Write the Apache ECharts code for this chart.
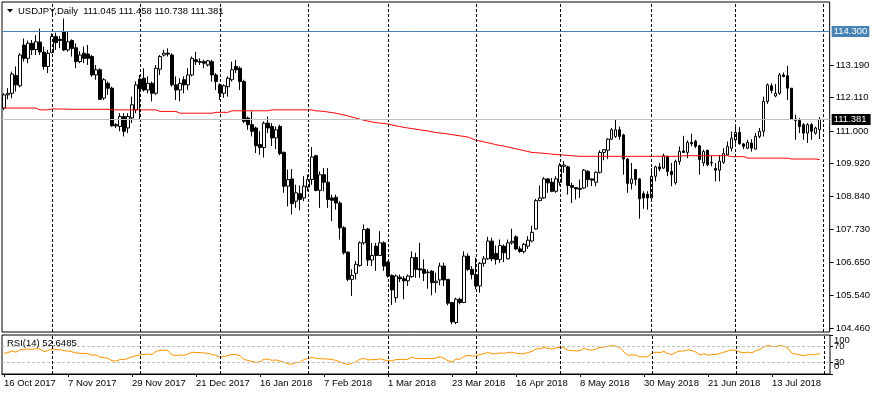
<!DOCTYPE html>
<html>
<head>
<meta charset="utf-8">
<script src="https://cdn.jsdelivr.net/npm/echarts@6/dist/echarts.min.js"></script>
<style>html,body{margin:0;padding:0;background:#fff}#c{width:873px;height:395px}</style>
</head>
<body>
<div id="c"></div>
<script>
const symbolName = 'USDJPY,Daily';
const holidays = ['2017-12-25', '2018-01-01'];
const priceTicks = [113.19, 112.11, 111.0, 109.92, 108.84, 107.73, 106.65, 105.54, 104.46];
const rsiInnerTicks = [30, 70];
const rsiEdgeTicks = [0, 100];
const rsiLevels = [70, 30];
const resistance = 114.3;
const tickEvery = 16;

const opens = [111.76,112.20,112.25,112.84,112.50,113.85,113.41,113.91,113.70,113.95,
113.62,113.14,113.60,114.13,114.04,114.29,113.69,114.00,113.76,113.30,
113.58,113.55,113.47,112.86,113.03,112.09,112.58,112.42,111.21,111.15,
111.48,111.10,111.43,111.70,112.72,112.75,112.36,112.58,112.25,113.05,
113.52,113.58,113.52,112.53,112.36,112.70,112.53,112.86,113.36,113.30,
113.30,113.19,113.30,112.86,112.53,112.25,112.47,112.70,113.14,113.08,
112.64,111.43,111.21,111.10,110.55,110.45,111.26,111.15,110.77,111.15,
110.29,109.17,109.41,108.67,108.92,108.78,109.14,109.39,110.18,109.03,
109.55,109.30,108.78,108.80,108.61,107.79,106.98,106.08,106.28,106.54,
107.29,107.75,106.72,107.18,106.87,107.29,106.65,106.21,105.47,106.15,
106.10,106.03,106.17,106.80,106.43,106.41,106.30,106.35,105.97,106.06,
106.52,106.08,105.31,104.65,105.42,105.31,106.85,106.41,106.24,105.86,
106.61,106.76,107.35,106.94,106.74,107.18,106.76,107.29,107.49,107.09,
107.00,107.18,107.35,107.75,108.69,108.78,109.41,109.30,109.00,109.30,
109.83,109.81,109.19,109.12,109.06,109.11,109.66,109.41,109.30,109.63,
110.29,110.36,110.73,110.82,111.04,110.87,110.07,109.26,109.72,109.41,
108.92,108.90,108.78,109.50,109.81,109.77,110.16,109.66,109.28,109.99,
110.34,110.29,110.62,110.66,110.51,109.94,110.36,109.94,109.76,109.70,
109.96,110.21,110.43,110.70,110.95,110.57,110.43,110.60,110.40,110.82,
110.99,111.98,112.50,112.16,112.25,112.86,112.83,112.42,111.39,111.35,
111.21,110.93,111.21,110.93,111.045];
const highs = [112.25,112.42,112.97,113.14,113.58,114.07,114.00,114.02,114.18,114.40,
113.80,113.69,114.24,114.26,114.15,114.73,114.29,114.04,113.91,113.64,
113.80,113.85,113.52,113.19,113.08,112.75,112.64,112.47,111.26,111.59,
111.59,111.59,112.14,112.64,112.86,113.08,112.81,112.64,113.19,113.52,
113.69,113.74,113.58,112.81,112.75,112.81,113.08,113.47,113.63,113.41,
113.36,113.36,113.36,112.92,112.58,112.55,112.81,113.30,113.36,113.14,
112.70,111.48,111.65,111.15,110.99,111.32,111.48,111.26,111.15,111.21,
110.32,109.72,109.74,109.22,109.19,109.50,109.55,110.47,110.21,109.66,
109.77,109.77,108.89,108.89,108.67,107.84,107.01,106.41,106.69,107.34,
107.90,107.79,107.29,107.29,107.68,107.34,106.69,106.24,106.24,106.24,
106.19,106.24,107.01,106.96,107.29,106.74,106.41,106.39,106.30,106.63,
106.63,106.08,105.33,105.47,105.47,107.01,106.94,106.52,106.80,106.65,
106.85,107.49,107.46,107.20,107.40,107.24,107.40,107.76,107.54,107.18,
107.29,107.51,107.86,108.75,109.19,109.47,109.44,109.44,109.50,109.94,
110.00,109.85,109.28,109.13,109.39,109.74,109.70,109.44,109.66,110.36,
110.40,110.76,111.10,111.37,111.15,110.91,110.10,109.94,109.74,109.44,
109.00,109.00,109.77,109.85,109.94,110.25,110.18,109.94,110.05,110.49,
110.84,110.69,110.91,110.71,110.54,110.38,110.38,110.18,109.94,110.21,
110.43,110.65,110.98,111.13,111.13,110.60,110.71,110.73,110.93,111.10,
112.14,112.58,112.58,112.56,112.92,112.94,113.16,112.42,111.54,111.43,
111.26,111.26,111.26,111.15,111.458];
const lows = [111.70,112.05,112.09,112.31,112.45,113.30,113.25,113.52,113.52,113.52,
113.03,112.92,113.58,113.69,113.75,113.65,113.63,113.47,113.08,113.25,
113.25,113.19,112.80,112.70,112.03,112.03,112.20,111.15,111.10,110.99,
110.82,110.93,111.26,111.59,111.37,112.31,112.25,111.98,112.20,112.86,
113.47,113.47,112.47,112.03,111.98,112.25,112.36,112.81,113.19,113.19,
113.08,113.14,112.64,112.36,112.03,112.10,112.14,112.64,112.92,112.36,
111.26,111.04,110.82,110.27,110.21,110.12,110.93,110.50,110.40,110.20,
108.95,108.50,108.23,108.45,108.37,108.67,109.00,109.22,109.00,108.45,
109.00,108.45,108.01,108.39,107.40,106.90,106.02,105.53,106.08,106.50,
107.23,106.52,106.52,106.36,106.85,106.36,106.13,105.23,105.31,105.99,
105.42,105.86,106.13,106.13,106.13,106.02,105.77,105.55,105.64,105.88,
105.86,105.22,104.59,104.59,105.25,105.29,106.36,106.08,105.75,105.64,
106.50,106.72,106.68,106.57,106.63,106.65,106.74,107.23,107.05,106.96,
106.94,107.09,107.31,107.73,108.67,108.75,108.95,108.97,108.95,109.19,
109.61,108.89,108.61,108.73,108.78,109.08,109.15,109.17,109.17,109.59,
110.03,110.07,110.70,110.77,110.71,109.55,108.95,109.06,109.19,108.09,
108.42,108.39,108.75,109.33,109.66,109.74,109.50,109.17,109.22,109.88,
110.27,110.10,110.49,110.43,109.55,109.83,109.83,109.83,109.33,109.33,
109.91,110.21,110.32,110.58,110.54,110.40,110.40,110.32,110.38,110.76,
110.82,111.90,112.25,112.12,112.20,112.78,112.03,111.37,110.71,110.93,
110.71,110.60,110.71,110.88,110.738];
const closes = [112.20,112.25,112.89,112.53,113.52,113.41,113.91,113.69,113.96,113.62,
113.14,113.58,114.13,113.93,114.00,113.69,113.96,113.74,113.30,113.52,
113.41,113.41,112.86,113.03,112.05,112.70,112.42,111.17,111.17,111.48,
110.99,111.48,111.87,112.53,112.40,112.36,112.58,112.25,113.08,113.47,
113.58,113.55,112.53,112.36,112.58,112.53,112.86,113.41,113.30,113.28,
113.25,113.33,112.86,112.64,112.25,112.50,112.75,113.03,113.03,112.64,
111.32,111.21,110.99,110.51,110.45,111.26,111.10,110.77,111.04,110.25,
109.17,109.39,108.59,108.95,108.73,109.17,109.39,110.14,109.03,109.55,
109.30,108.73,108.70,108.61,107.79,106.96,106.08,106.21,106.58,107.29,
107.73,106.72,106.87,106.87,107.29,106.52,106.19,105.73,106.19,106.10,
106.03,106.19,106.80,106.41,106.39,106.28,106.32,105.97,106.02,106.52,
106.06,105.29,104.67,105.42,105.31,106.85,106.41,106.24,105.86,106.61,
106.76,107.35,106.76,106.74,107.20,106.96,107.29,107.34,107.09,107.00,
107.24,107.38,107.64,108.69,108.78,109.41,109.28,109.00,109.41,109.85,
109.87,109.19,109.13,109.08,109.10,109.70,109.39,109.37,109.63,110.29,
110.38,110.73,111.04,111.04,110.82,110.07,109.26,109.41,109.39,108.75,
108.78,108.78,109.50,109.81,109.74,110.18,109.66,109.55,109.99,110.32,
110.29,110.62,110.58,110.49,110.05,110.32,109.88,109.96,109.70,110.00,
110.25,110.49,110.76,110.95,110.58,110.49,110.62,110.43,110.82,110.99,
111.98,112.53,112.34,112.25,112.86,112.81,112.42,111.39,111.35,111.15,
110.93,111.21,110.99,111.10,111.381];
const ma = [111.76,111.76,111.76,111.76,111.76,111.76,111.76,111.76,111.76,111.70,
111.70,111.70,111.73,111.73,111.73,111.73,111.72,111.72,111.72,111.72,
111.72,111.72,111.72,111.72,111.72,111.72,111.72,111.70,111.70,111.70,
111.70,111.70,111.70,111.70,111.70,111.70,111.70,111.70,111.70,111.65,
111.65,111.65,111.65,111.65,111.59,111.59,111.59,111.59,111.59,111.59,
111.59,111.59,111.59,111.62,111.62,111.62,111.62,111.67,111.67,111.67,
111.67,111.67,111.67,111.67,111.67,111.67,111.67,111.70,111.70,111.70,
111.70,111.70,111.70,111.70,111.70,111.70,111.70,111.70,111.67,111.66,
111.65,111.63,111.61,111.59,111.56,111.53,111.50,111.46,111.43,111.39,
111.36,111.33,111.30,111.28,111.26,111.25,111.23,111.20,111.17,111.15,
111.12,111.10,111.08,111.06,111.04,111.02,111.00,110.97,110.95,110.93,
110.92,110.90,110.88,110.86,110.84,110.82,110.80,110.75,110.69,110.67,
110.64,110.61,110.58,110.55,110.52,110.50,110.47,110.44,110.41,110.38,
110.35,110.32,110.29,110.28,110.27,110.26,110.25,110.23,110.22,110.21,
110.20,110.19,110.18,110.17,110.16,110.16,110.16,110.16,110.16,110.16,
110.16,110.16,110.16,110.16,110.16,110.16,110.16,110.16,110.16,110.16,
110.16,110.16,110.16,110.16,110.16,110.16,110.16,110.16,110.16,110.16,
110.18,110.18,110.18,110.18,110.18,110.18,110.18,110.18,110.18,110.18,
110.18,110.18,110.15,110.15,110.15,110.15,110.10,110.10,110.10,110.10,
110.10,110.10,110.10,110.10,110.10,110.10,110.10,110.07,110.07,110.07,
110.07,110.07,110.07,110.07,110.05];
const rsi = [53,55,59,56,62,63,64,63,65,64,
57,60,64,63,62,60,59,57,54,53,
53,52,48,49,43,42,40,34,33,37,
37,40,44,47,49,50,51,50,58,61,
61,60,49,47,49,48,51,56,55,55,
54,53,50,48,43,45,47,50,50,47,
37,35,32,30,31,38,38,35,36,33,
30,26,25,30,30,37,40,43,40,39,
39,38,37,35,31,27,24,28,31,38,
40,36,37,37,39,36,34,34,37,37,
37,38,43,40,40,39,40,39,41,44,
40,34,31,38,38,45,48,46,46,50,
52,55,52,52,54,53,55,56,53,52,
52,55,58,64,65,68,66,64,67,68,
67,61,60,59,60,66,62,61,64,68,
69,71,73,71,68,56,48,49,48,44,
44,44,54,56,55,58,52,50,56,59,
59,62,60,56,49,52,48,50,50,53,
56,59,62,60,56,55,56,54,60,63,
70,73,71,70,73,71,66,53,51,49,
47,50,49,50,52.6485];

// trading-day categories (bars plus two empty right-shift slots)
const MONTHS = ['Jan','Feb','Mar','Apr','May','Jun','Jul','Aug','Sep','Oct','Nov','Dec'];
const dates = [], monthOf = [];
(function(){
  const d = new Date(Date.UTC(2017, 9, 16));
  while (dates.length < opens.length + 2) {
    const wd = d.getUTCDay(), iso = d.toISOString().slice(0, 10);
    if (wd !== 0 && wd !== 6 && holidays.indexOf(iso) < 0) {
      dates.push(d.getUTCDate() + ' ' + MONTHS[d.getUTCMonth()] + ' ' + d.getUTCFullYear());
      monthOf.push(d.getUTCMonth());
    }
    d.setUTCDate(d.getUTCDate() + 1);
  }
})();
const separators = [];
for (let i = 1; i < dates.length; i++) if (monthOf[i] !== monthOf[i - 1]) separators.push(i);

const FONT = '"Liberation Sans", Arial, sans-serif';
const FS = 9.5;
const last = opens.length - 1;
const candleData = opens.map((o, i) => [o, closes[i], lows[i], highs[i]]);
const sepStyle = { color: '#000', width: 1, type: [3, 2] };
const showTick = (idx) => idx % tickEvery === 0 && idx <= last;
const rsiAxisBase = {
  type: 'value', gridIndex: 1, position: 'right', min: 0, max: 100,
  axisLine: { show: false }, splitLine: { show: false }
};

const chart = echarts.init(document.getElementById('c'), null, { renderer: 'canvas' });
chart.setOption({
  animation: false,
  backgroundColor: '#fff',
  textStyle: { fontFamily: FONT },
  title: [
    { text: symbolName + '  ' + [opens[last], highs[last], lows[last], closes[last]].map(v => v.toFixed(3)).join(' '),
      left: 18, top: 6, padding: 0, textStyle: { fontSize: FS, fontWeight: 'normal', color: '#000', fontFamily: FONT } },
    { text: 'RSI(14) ' + rsi[last].toFixed(4),
      left: 7, top: 338, padding: 0, textStyle: { fontSize: FS, fontWeight: 'normal', color: '#000', fontFamily: FONT } }
  ],
  graphic: [{ type: 'polygon', shape: { points: [[7, 9], [13, 9], [10, 12.5]] }, style: { fill: '#000' } }],
  grid: [
    { left: 2, right: 43, top: 2, height: 330, show: true, borderColor: '#000', borderWidth: 1 },
    { left: 2, right: 43, top: 335, height: 39, show: true, borderColor: '#000', borderWidth: 1 }
  ],
  xAxis: [
    { type: 'category', gridIndex: 0, data: dates, boundaryGap: true,
      axisLine: { show: false }, axisTick: { show: false }, axisLabel: { show: false }, splitLine: { show: false } },
    { type: 'category', gridIndex: 1, data: dates, boundaryGap: true,
      axisLine: { show: true, lineStyle: { color: '#000' } },
      axisTick: { show: true, interval: showTick, length: 3, alignWithLabel: true, lineStyle: { color: '#000' } },
      axisLabel: { interval: showTick, align: 'left', margin: 4, fontSize: FS, color: '#000', fontFamily: FONT },
      splitLine: { show: false } }
  ],
  yAxis: [
    { type: 'value', gridIndex: 0, position: 'right', min: 104.333, max: 115.2784, scale: true,
      axisLine: { show: false }, splitLine: { show: false },
      axisTick: { show: true, customValues: priceTicks, length: 4, lineStyle: { color: '#000' } },
      axisLabel: { customValues: priceTicks, formatter: v => v.toFixed(3), margin: 6, fontSize: FS, color: '#000', fontFamily: FONT } },
    Object.assign({}, rsiAxisBase, {
      axisTick: { show: true, customValues: rsiInnerTicks, length: 3, lineStyle: { color: '#000' } },
      axisLabel: { customValues: rsiInnerTicks, margin: 4, fontSize: FS, color: '#000', fontFamily: FONT,
        showMinLabel: true, showMaxLabel: true } }),
    Object.assign({}, rsiAxisBase, {
      axisTick: { show: true, customValues: rsiEdgeTicks, length: 3, lineStyle: { color: '#000' } },
      axisLabel: { customValues: rsiEdgeTicks, margin: 4, fontSize: FS, color: '#000', fontFamily: FONT,
        showMinLabel: true, showMaxLabel: true,
        formatter: v => v === 100 ? '{t|100}' : '{b|0}',
        rich: { t: { padding: [11, 0, 0, 0], fontSize: FS, fontFamily: FONT, color: '#000' },
                b: { padding: [0, 0, 15, 0], fontSize: FS, fontFamily: FONT, color: '#000' } } } })
  ],
  series: [
    { type: 'candlestick', xAxisIndex: 0, yAxisIndex: 0, data: candleData, barWidth: 3,
      itemStyle: { color: '#fff', color0: '#000', borderColor: '#000', borderColor0: '#000', borderWidth: 1 },
      markLine: { silent: true, symbol: ['none', 'none'], animation: false,
        data: separators.map(i => ({ xAxis: i, lineStyle: sepStyle, label: { show: false } })).concat([
          { yAxis: resistance, lineStyle: { color: '#4682B4', width: 1, type: 'solid', opacity: 1 },
            label: { show: true, position: 'end', distance: 2, formatter: resistance.toFixed(3), color: '#fff',
              backgroundColor: '#4682B4', padding: [1, 2, 0, 2], fontSize: FS, fontFamily: FONT } },
          { yAxis: closes[last], lineStyle: { color: '#C0C0C0', width: 1, type: 'solid', opacity: 1 },
            label: { show: true, position: 'end', distance: 2, formatter: closes[last].toFixed(3), color: '#fff',
              backgroundColor: '#000', padding: [1, 4, 0, 2], fontSize: FS, fontFamily: FONT } }
        ]) } },
    { type: 'line', xAxisIndex: 0, yAxisIndex: 0, data: ma, symbol: 'none', z: 3,
      lineStyle: { color: '#FF0000', width: 1 } },
    { type: 'line', xAxisIndex: 1, yAxisIndex: 1, data: rsi, symbol: 'none',
      lineStyle: { color: '#FF9500', width: 1 },
      markLine: { silent: true, symbol: ['none', 'none'], animation: false, label: { show: false },
        data: rsiLevels.map(v => ({ yAxis: v, lineStyle: { color: '#C0C0C0', width: 1, type: [3, 2] } }))
          .concat(separators.map(i => ({ xAxis: i, lineStyle: sepStyle }))) } }
  ]
});
</script>
</body>
</html>
